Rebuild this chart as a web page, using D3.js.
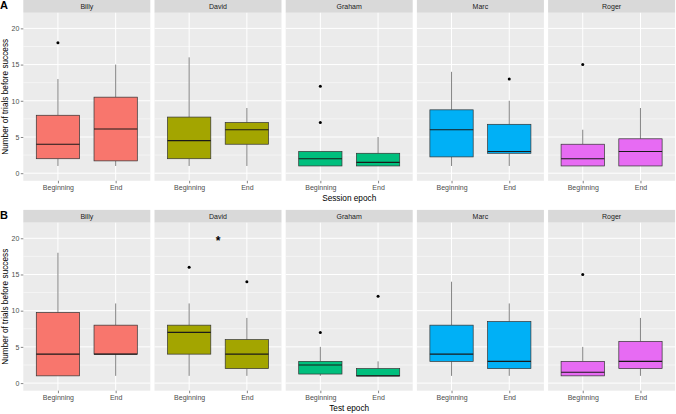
<!DOCTYPE html>
<html>
<head>
<meta charset="utf-8">
<script src="https://cdn.jsdelivr.net/npm/d3@7.9.0/dist/d3.min.js"></script>
<style>
  html, body { margin: 0; padding: 0; background: #fff; }
  svg { display: block; font-family: "Liberation Sans", Arial, sans-serif; }
</style>
</head>
<body>
<svg id="chart" width="676" height="414"></svg>
<script>
const subjects = ['Billy', 'David', 'Graham', 'Marc', 'Roger'];
const epochs = ['Beginning', 'End'];
const fills = ['#F8766D', '#A3A500', '#00BF7D', '#00B0F6', '#E76BF3'];
const yTicks = [0, 5, 10, 15, 20];

// box stats per subject, per epoch: [whisker low, q1, median, q3, whisker high]
const sessionBoxes = [
  [[1, 2, 4, 8, 13], [1, 1.7, 6.1, 10.5, 15]],
  [[1, 2, 4.5, 7.75, 16], [1, 4, 6, 7, 9]],
  [[1, 1, 2, 3, 3], [1, 1, 1.5, 2.75, 5]],
  [[1, 2.25, 6, 8.75, 14], [1, 2.75, 3, 6.75, 10]],
  [[1, 1, 2, 4, 6], [1, 1, 3, 4.75, 9]]
];
const sessionOutliers = [
  [[18], []],
  [[], []],
  [[7, 12], []],
  [[], [13]],
  [[15], []]
];

const testBoxes = [
  [[1, 1, 4, 9.75, 18], [1, 4, 4, 8, 11]],
  [[1, 4, 7, 8, 11], [1, 2, 4, 6, 9]],
  [[1, 1.25, 2.5, 3, 5], [1, 1, 1, 2, 3]],
  [[1, 3, 4, 8, 14], [1, 2, 3, 8.5, 11]],
  [[1, 1, 1.5, 3, 5], [1, 2, 3, 5.75, 9]]
];
const testOutliers = [
  [[], []],
  [[16], [14]],
  [[7], [12]],
  [[], []],
  [[15], []]
];

// significance star in the David test panel
const testStar = { subject: 'David', value: 20 };

const svg = d3.select('#chart');

const plotLeft = 23.3;
const panelW = 127;
const panelGap = 4.2;
const panelH = 168;
const stripH = 12.8;

const x = d3.scalePoint().domain(epochs).range([0, panelW]).padding(0.6);
const boxW = x.step() * 0.75;
const y = d3.scaleLinear().domain([-1.05, 22.15]).range([panelH, 0]);

function drawFacetRow(top, letter, boxes, outliers, xTitle, star) {
  const row = svg.append('g').attr('transform', `translate(0,${top})`);

  row.append('text')
    .attr('x', 0).attr('y', 9)
    .attr('font-size', 11).attr('font-weight', 'bold')
    .text(letter);

  subjects.forEach((name, i) => {
    const px = plotLeft + i * (panelW + panelGap);
    const g = row.append('g').attr('transform', `translate(${px},0)`);

    // strip
    g.append('rect').attr('width', panelW).attr('height', stripH).attr('fill', '#D9D9D9');
    g.append('text')
      .attr('x', panelW / 2).attr('y', stripH / 2 + 2.5)
      .attr('text-anchor', 'middle').attr('font-size', 7).attr('fill', '#1A1A1A')
      .text(name);

    const p = g.append('g').attr('transform', `translate(0,${stripH})`);
    p.append('rect').attr('width', panelW).attr('height', panelH).attr('fill', '#EBEBEB');

    // minor grid
    d3.range(2.5, 22.5, 5).forEach(v => {
      p.append('line').attr('x1', 0).attr('x2', panelW)
        .attr('y1', y(v)).attr('y2', y(v))
        .attr('stroke', '#fff').attr('stroke-width', 0.5);
    });
    yTicks.forEach(v => {
      p.append('line').attr('x1', 0).attr('x2', panelW)
        .attr('y1', y(v)).attr('y2', y(v))
        .attr('stroke', '#fff').attr('stroke-width', 1);
    });
    epochs.forEach(e => {
      p.append('line').attr('x1', x(e)).attr('x2', x(e))
        .attr('y1', 0).attr('y2', panelH)
        .attr('stroke', '#fff').attr('stroke-width', 1);
    });

    // boxes
    epochs.forEach((e, j) => {
      const [lo, q1, med, q3, hi] = boxes[i][j];
      const cx = x(e);
      p.append('line').attr('x1', cx).attr('x2', cx).attr('y1', y(q3)).attr('y2', y(hi))
        .attr('stroke', '#333').attr('stroke-width', 0.6);
      p.append('line').attr('x1', cx).attr('x2', cx).attr('y1', y(q1)).attr('y2', y(lo))
        .attr('stroke', '#333').attr('stroke-width', 0.6);
      p.append('rect')
        .attr('x', cx - boxW / 2).attr('width', boxW)
        .attr('y', y(q3)).attr('height', y(q1) - y(q3))
        .attr('fill', fills[i]).attr('stroke', '#333').attr('stroke-width', 0.7);
      p.append('line').attr('x1', cx - boxW / 2).attr('x2', cx + boxW / 2)
        .attr('y1', y(med)).attr('y2', y(med))
        .attr('stroke', '#1A1A1A').attr('stroke-width', 1.1);
      outliers[i][j].forEach(v => {
        p.append('circle').attr('cx', cx).attr('cy', y(v)).attr('r', 1.5).attr('fill', '#000');
      });
    });

    if (star && star.subject === name) {
      const sx = (x(epochs[0]) + x(epochs[1])) / 2;
      p.append('text')
        .attr('x', sx).attr('y', y(star.value) + 6.8)
        .attr('text-anchor', 'middle').attr('font-size', 12).attr('font-weight', 'bold')
        .attr('fill', '#000')
        .text('*');
    }

    // x axis
    const xa = p.append('g').attr('transform', `translate(0,${panelH})`)
      .call(d3.axisBottom(x).tickSize(2.5).tickPadding(1.5));
    xa.select('.domain').remove();
    xa.selectAll('line').attr('stroke', '#333').attr('stroke-width', 0.6);
    xa.selectAll('text').attr('font-size', 7).attr('fill', '#4D4D4D')
      .attr('font-family', '"Liberation Sans", Arial, sans-serif');

    if (i === 0) {
      const ya = p.append('g')
        .call(d3.axisLeft(y).tickValues(yTicks).tickSize(2.5).tickPadding(1.5));
      ya.select('.domain').remove();
      ya.selectAll('line').attr('stroke', '#333').attr('stroke-width', 0.6);
      ya.selectAll('text').attr('font-size', 7).attr('fill', '#4D4D4D')
        .attr('font-family', '"Liberation Sans", Arial, sans-serif');
    }
  });

  const plotRight = plotLeft + subjects.length * panelW + (subjects.length - 1) * panelGap;

  row.append('text')
    .attr('transform', `translate(8,${stripH + panelH / 2}) rotate(-90)`)
    .attr('text-anchor', 'middle').attr('font-size', 8.25).attr('fill', '#000')
    .text('Number of trials before success');

  row.append('text')
    .attr('x', (plotLeft + plotRight) / 2).attr('y', stripH + panelH + 20)
    .attr('text-anchor', 'middle').attr('font-size', 8.25).attr('fill', '#000')
    .text(xTitle);
}

drawFacetRow(0, 'A', sessionBoxes, sessionOutliers, 'Session epoch', null);
drawFacetRow(209.9, 'B', testBoxes, testOutliers, 'Test epoch', testStar);
</script>
</body>
</html>
